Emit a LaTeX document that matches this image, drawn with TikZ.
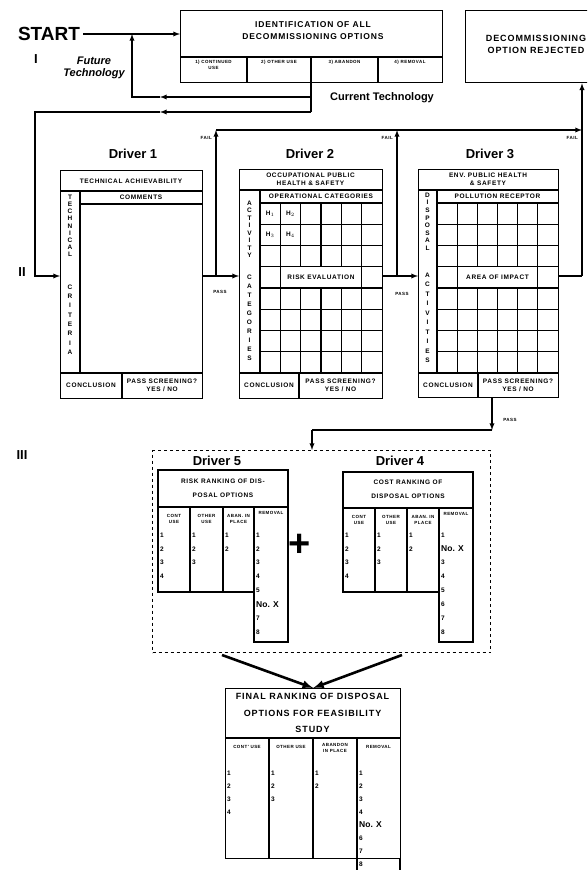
\documentclass[tikz,border=0pt]{standalone}
\usepackage{fontspec}
\setmainfont{Liberation Sans}
\newfontfamily\scanfont[LetterSpace=10]{Liberation Sans}
\usetikzlibrary{positioning}

\tikzset{
  box/.style={draw, line width=1.3pt, inner sep=0pt, anchor=north west},
  wire/.style={line width=1.3pt},
  flow/.style={line width=1.3pt, ->},
  cell/.style={font=\scanfont\bfseries\fontsize{6.5}{8}\selectfont, align=center, inner sep=0pt},
  tiny cell/.style={font=\scanfont\bfseries\fontsize{4.5}{6.5}\selectfont, align=center, inner sep=0pt},
  entry/.style={font=\bfseries\fontsize{6.5}{7}\selectfont, anchor=west, inner sep=0pt},
  drvname/.style={font=\bfseries\fontsize{13}{15}\selectfont},
  phase/.style={font=\bfseries\fontsize{13}{15}\selectfont},
  tag/.style={font=\scanfont\bfseries\fontsize{4.5}{5}\selectfont, inner sep=0pt},
}

\begin{document}
\begin{tikzpicture}[x=1pt, y=-1pt, >=latex]
  \clip (0,0) rectangle (587,870);

  % phase I: options
  \node[font=\bfseries\fontsize{19}{22}\selectfont] (start) at (49,34) {START};
  \node[phase] (ph1) at (36,59) {I};
  \node[font=\bfseries\itshape\fontsize{11}{12}\selectfont, align=center] (future) at (94,68) {Future\\Technology};
  \node[box, minimum width=262pt, minimum height=72pt] (idbox) at (180,10) {};
  \node[cell, font=\scanfont\bfseries\fontsize{8.5}{12}\selectfont] (idtitle) at (313,31) {IDENTIFICATION OF ALL\\DECOMMISSIONING OPTIONS};
  \draw[wire] (180,57) -- (442,57) (247,57) -- (247,82) (311,57) -- (311,82) (378,57) -- (378,82);
  \node[tiny cell, anchor=north] (opt1) at (213.5,60) {1) CONTINUED\\USE};
  \node[tiny cell, anchor=north] (opt2) at (279,60) {2) OTHER USE};
  \node[tiny cell, anchor=north] (opt3) at (344.5,60) {3) ABANDON};
  \node[tiny cell, anchor=north] (opt4) at (410,60) {4) REMOVAL};
  \node[box, minimum width=135pt, minimum height=72pt] (rejected) at (465,10) {};
  \node[cell, font=\scanfont\bfseries\fontsize{9}{12}\selectfont] (rejtitle) at (536,44) {DECOMMISSIONING\\OPTION REJECTED};
  \node[font=\bfseries\fontsize{11}{12}\selectfont] (current) at (382,98) {Current Technology};

  % phase II: screening
  \node[phase] (ph2) at (22,272) {II};

  % driver 1
  \node[drvname] (d1name) at (133,154) {Driver 1};
  \node[box, minimum width=142pt, minimum height=228pt] (drv1) at (60,170) {};
  \draw[wire] (60,191) -- (202,191) (80,204) -- (202,204) (80,191) -- (80,373)
              (60,373) -- (202,373) (122,373) -- (122,398);
  \node[cell] (d1title) at (131,181) {TECHNICAL ACHIEVABILITY};
  \node[cell] (d1head) at (141,197.5) {COMMENTS};
  \foreach \l [count=\i from 0] in {T,E,C,H,N,I,C,A,L} \node[cell] (d1a\i) at (70,197+\i*7.2) {\l};
  \foreach \l [count=\i from 0] in {C,R,I,T,E,R,I,A} \node[cell] (d1b\i) at (70,287+\i*9.3) {\l};
  \node[cell] (d1con) at (91,385.5) {CONCLUSION};
  \node[cell] (d1pass) at (162,385.5) {PASS SCREENING?\\YES / NO};

  % driver 2
  \node[drvname] (d2name) at (310,154) {Driver 2};
  \node[box, minimum width=143pt, minimum height=229pt] (drv2) at (239,169) {};
  \draw[wire] (239,190) -- (382,190) (260,203) -- (382,203) (260,190) -- (260,373)
              (239,373) -- (382,373) (299,373) -- (299,398);
  \foreach \y in {224.25,245.5,266.75,288,309.25,330.5,351.75} \draw[wire] (260,\y) -- (382,\y);
  \foreach \x in {280.3,361.7} \draw[wire] (\x,203) -- (\x,373);
  \foreach \x in {300.7,321,341.3} \draw[wire] (\x,203) -- (\x,266.75) (\x,288) -- (\x,373);
  \node[cell] (d2title) at (310.5,179.5) {OCCUPATIONAL PUBLIC\\HEALTH \& SAFETY};
  \node[cell] (d2head) at (321,196.5) {OPERATIONAL CATEGORIES};
  \node[cell] (h1) at (270.2,213.6) {H$_1$};
  \node[cell] (h2) at (290.5,213.6) {H$_2$};
  \node[cell] (h3) at (270.2,234.9) {H$_3$};
  \node[cell] (h4) at (290.5,234.9) {H$_4$};
  \node[cell] (d2mid) at (321,277.4) {RISK EVALUATION};
  \foreach \l [count=\i from 0] in {A,C,T,I,V,I,T,Y} \node[cell] (d2a\i) at (249.5,203+\i*7.5) {\l};
  \foreach \l [count=\i from 0] in {C,A,T,E,G,O,R,I,E,S} \node[cell] (d2b\i) at (249.5,277+\i*9) {\l};
  \node[cell] (d2con) at (269,385.5) {CONCLUSION};
  \node[cell] (d2pass) at (340.5,385.5) {PASS SCREENING?\\YES / NO};

  % driver 3
  \node[drvname] (d3name) at (490,154) {Driver 3};
  \node[box, minimum width=140pt, minimum height=228pt] (drv3) at (418,169) {};
  \draw[wire] (418,190) -- (558,190) (437,203) -- (558,203) (437,190) -- (437,373)
              (418,373) -- (558,373) (478,373) -- (478,397);
  \foreach \y in {224.25,245.5,266.75,288,309.25,330.5,351.75} \draw[wire] (437,\y) -- (558,\y);
  \foreach \x in {457.2,537.8} \draw[wire] (\x,203) -- (\x,373);
  \foreach \x in {477.3,497.5,517.7} \draw[wire] (\x,203) -- (\x,266.75) (\x,288) -- (\x,373);
  \node[cell] (d3title) at (488,179.5) {ENV. PUBLIC HEALTH\\\& SAFETY};
  \node[cell] (d3head) at (497.5,196.5) {POLLUTION RECEPTOR};
  \node[cell] (d3mid) at (497.5,277.4) {AREA OF IMPACT};
  \foreach \l [count=\i from 0] in {D,I,S,P,O,S,A,L} \node[cell] (d3a\i) at (427.5,195+\i*7.6) {\l};
  \foreach \l [count=\i from 0] in {A,C,T,I,V,I,T,I,E,S} \node[cell] (d3b\i) at (427.5,275+\i*9.5) {\l};
  \node[cell] (d3con) at (448,385) {CONCLUSION};
  \node[cell] (d3pass) at (518,385) {PASS SCREENING?\\YES / NO};

  % loops back from the options
  \coordinate (fork) at (311,82);
  \coordinate (futarrow) at (160,97);
  \coordinate (futbend) at (132,97);
  \coordinate (curarrow) at (160,112);
  \coordinate (curbend) at (35,112);
  \coordinate (curlow) at (35,276);
  \draw[flow] (start.east) -- (start.east -| idbox.west);
  \draw[flow] (fork) |- (futarrow);
  \draw[flow] (futarrow) -- (futbend) -- (futbend |- start.east);
  \draw[wire] (fork |- futarrow) -- (fork |- curarrow);
  \draw[flow] (fork |- curarrow) -- (curarrow);
  \draw[flow] (curarrow) -- (curbend) -- (curlow) -- (curlow -| drv1.west);

  % pass / fail between drivers
  \coordinate (fail1) at (216,130);
  \coordinate (fail2) at (397,130);
  \coordinate (failend) at (582,130);
  \coordinate (pass1) at (216,276);
  \coordinate (pass2) at (397,276);
  \coordinate (pass3) at (582,276);
  \draw[wire] (pass1 -| drv1.east) -- (pass1);
  \draw[flow] (pass1) -- (fail1);
  \draw[flow] (pass1) -- (pass1 -| drv2.west);
  \draw[wire] (pass2 -| drv2.east) -- (pass2);
  \draw[flow] (pass2) -- (fail2);
  \draw[flow] (pass2) -- (pass2 -| drv3.west);
  \draw[flow] (fail1) -- (failend);
  \draw[wire] (pass3 -| drv3.east) -- (pass3);
  \draw[flow] (pass3) -- (pass3 |- rejected.south);
  \node[tag, anchor=east] (fail1lbl) at (212,138) {FAIL};
  \node[tag, anchor=east] (fail2lbl) at (393,138) {FAIL};
  \node[tag, anchor=east] (fail3lbl) at (578,138) {FAIL};
  \node[tag] (pass1lbl) at (220,292) {PASS};
  \node[tag] (pass2lbl) at (402,294) {PASS};
  \node[tag] (pass3lbl) at (510,420) {PASS};

  % phase III: ranking
  \node[phase] (ph3) at (22,455) {III};
  \node[box, dashed, minimum width=338pt, minimum height=202pt] (rank) at (152,450) {};
  \coordinate (drop) at (492,430);
  \coordinate (dropleft) at (312,430);
  \draw[flow] (drop |- drv3.south) -- (drop);
  \draw[wire] (drop) -- (dropleft);
  \draw[flow] (dropleft) -- (dropleft |- rank.north);

  % driver 5
  \node[drvname] (d5name) at (217,461) {Driver 5};
  \draw[wire] (158,470) -- (288,470) -- (288,642) -- (254,642) -- (254,592) -- (158,592) -- cycle;
  \draw[wire] (158,507) -- (288,507) (190,507) -- (190,592) (223,507) -- (223,592) (254,507) -- (254,592);
  \node[cell, font=\scanfont\bfseries\fontsize{6.5}{14}\selectfont] (d5title) at (223,488) {RISK RANKING OF DIS-\\POSAL OPTIONS};
  \node[tiny cell] (d5c1) at (174,519) {CONT\\USE};
  \node[tiny cell] (d5c2) at (206.5,519) {OTHER\\USE};
  \node[tiny cell] (d5c3) at (238.5,519) {ABAN. IN\\PLACE};
  \node[tiny cell] (d5c4) at (271,513) {REMOVAL};
  \foreach \n [count=\i] in {1,2,3,4} \node[entry] (d5e\i) at (160,521+\i*13.9) {\n};
  \foreach \n [count=\i] in {1,2,3} \node[entry] (d5f\i) at (192,521+\i*13.9) {\n};
  \foreach \n [count=\i] in {1,2} \node[entry] (d5g\i) at (225,521+\i*13.9) {\n};
  \foreach \n [count=\i] in {1,2,3,4,5,{\fontsize{8.5}{9}\selectfont No. X},7,8} \node[entry] (d5h\i) at (256,521+\i*13.9) {\n};

  \node[font=\bfseries\fontsize{38}{38}\selectfont] (plus) at (300,545) {+};

  % driver 4
  \node[drvname] (d4name) at (400,461) {Driver 4};
  \draw[wire] (343,472) -- (473,472) -- (473,642) -- (439,642) -- (439,592) -- (343,592) -- cycle;
  \draw[wire] (343,508) -- (473,508) (375,508) -- (375,592) (407,508) -- (407,592) (439,508) -- (439,592);
  \node[cell, font=\scanfont\bfseries\fontsize{6.5}{14}\selectfont] (d4title) at (408,489) {COST RANKING OF\\DISPOSAL OPTIONS};
  \node[tiny cell] (d4c1) at (359,520) {CONT\\USE};
  \node[tiny cell] (d4c2) at (391,520) {OTHER\\USE};
  \node[tiny cell] (d4c3) at (423,520) {ABAN. IN\\PLACE};
  \node[tiny cell] (d4c4) at (456,514) {REMOVAL};
  \foreach \n [count=\i] in {1,2,3,4} \node[entry] (d4e\i) at (345,521+\i*13.9) {\n};
  \foreach \n [count=\i] in {1,2,3} \node[entry] (d4f\i) at (377,521+\i*13.9) {\n};
  \foreach \n [count=\i] in {1,2} \node[entry] (d4g\i) at (409,521+\i*13.9) {\n};
  \foreach \n [count=\i] in {1,{\fontsize{8.5}{9}\selectfont No. X},3,4,5,6,7,8} \node[entry] (d4h\i) at (441,521+\i*13.9) {\n};

  % final ranking
  \node[box, minimum width=175pt, minimum height=170pt] (final) at (225,688) {};
  \coordinate (mergeleft) at (222,655);
  \coordinate (mergeright) at (402,655);
  \draw[flow, line width=2.6pt] (mergeleft) -- (final.north);
  \draw[flow, line width=2.6pt] (mergeright) -- (final.north);
  \draw[wire] (225,738) -- (400,738) (269,738) -- (269,858) (313,738) -- (313,858)
              (357,738) -- (357,875) (400,858) -- (400,875);
  \node[cell, font=\scanfont\bfseries\fontsize{9}{16.5}\selectfont] (fintitle) at (312.5,713) {FINAL RANKING OF DISPOSAL\\OPTIONS FOR FEASIBILITY\\STUDY};
  \node[tiny cell] (fc1) at (247,747) {CONT' USE};
  \node[tiny cell] (fc2) at (291,747) {OTHER USE};
  \node[tiny cell] (fc3) at (335,748) {ABANDON\\IN PLACE};
  \node[tiny cell] (fc4) at (378.5,747) {REMOVAL};
  \foreach \n [count=\i] in {1,2,3,4} \node[entry] (fe\i) at (227,760+\i*13) {\n};
  \foreach \n [count=\i] in {1,2,3} \node[entry] (ff\i) at (271,760+\i*13) {\n};
  \foreach \n [count=\i] in {1,2} \node[entry] (fg\i) at (315,760+\i*13) {\n};
  \foreach \n [count=\i] in {1,2,3,4,{\fontsize{8.5}{9}\selectfont No. X},6,7,8} \node[entry] (fh\i) at (359,760+\i*13) {\n};
\end{tikzpicture}
\end{document}
